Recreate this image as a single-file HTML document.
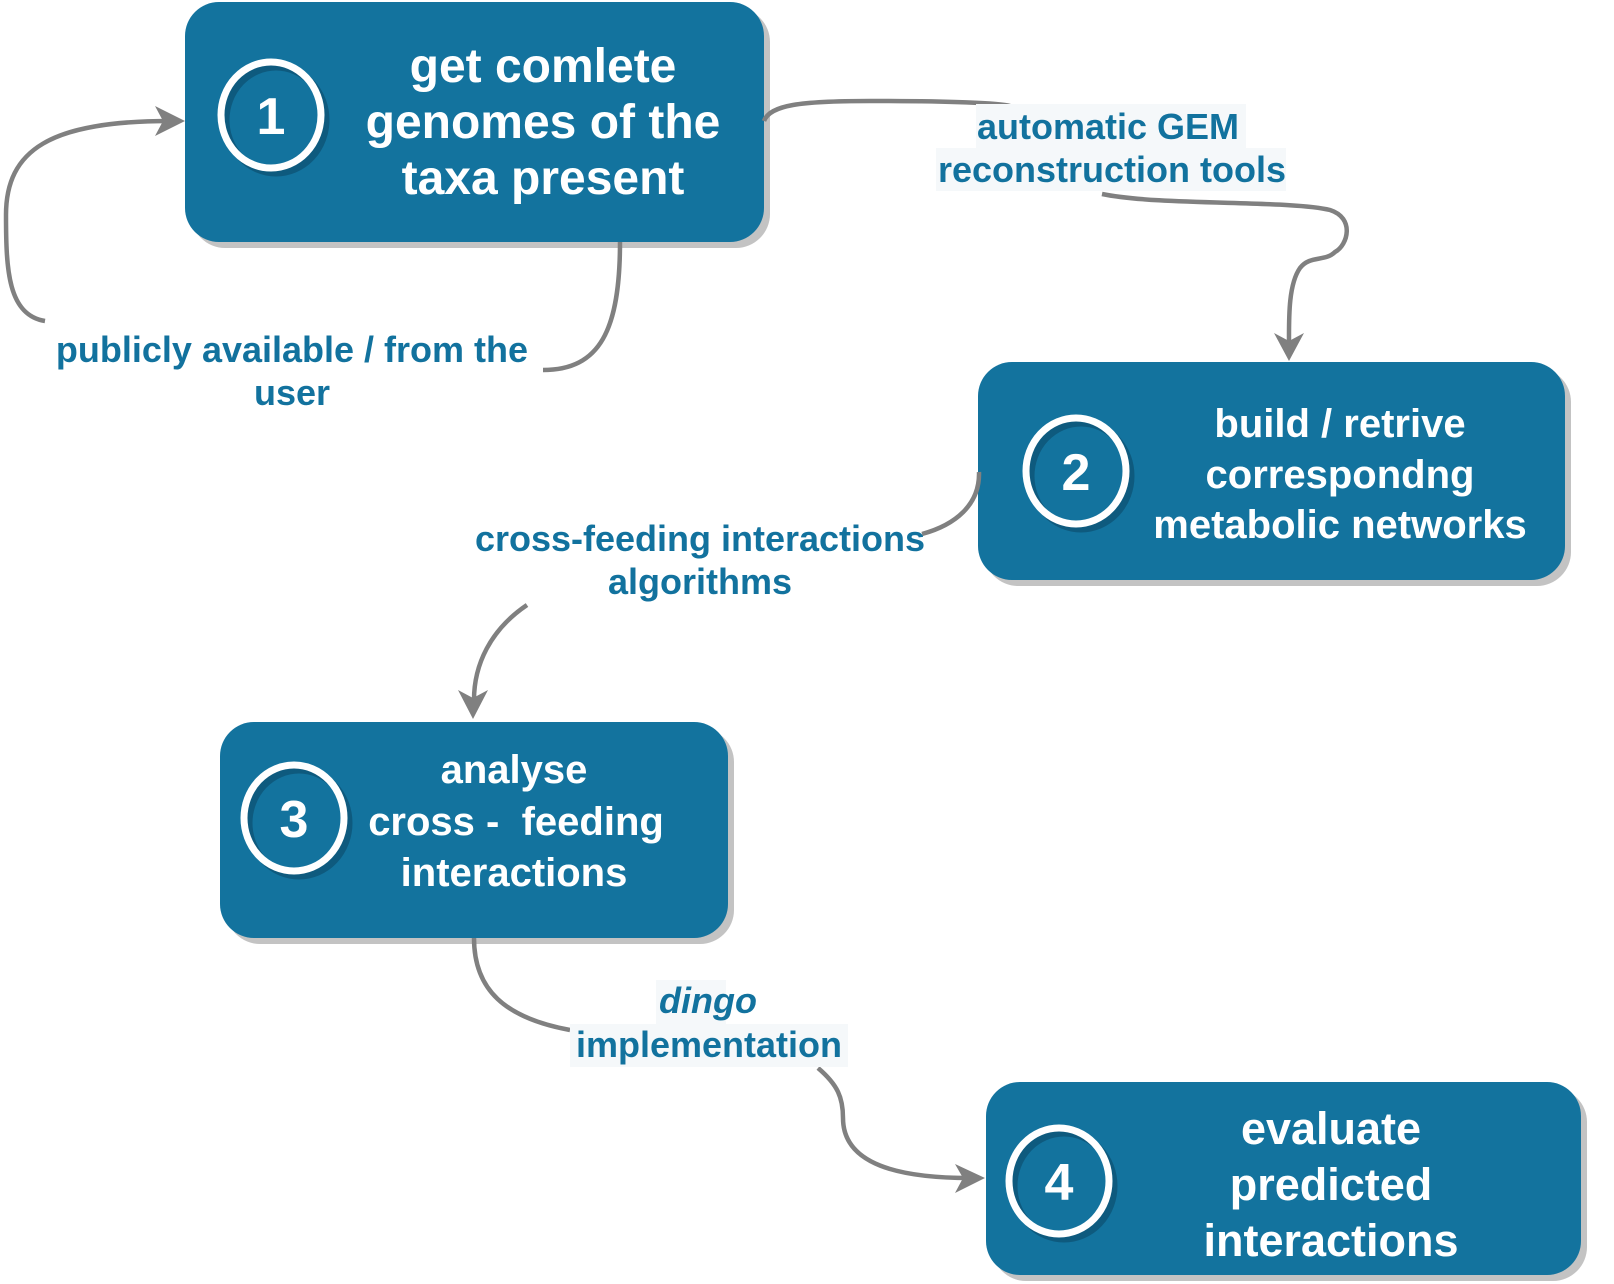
<!DOCTYPE html>
<html><head><meta charset="utf-8"><style>
html,body{margin:0;padding:0;background:#fff;}
svg{display:block;}
.bt{font-family:"Liberation Sans",sans-serif;font-weight:bold;fill:#fff;text-anchor:middle;}
.lb{font-family:"Liberation Sans",sans-serif;font-weight:bold;fill:#12729e;text-anchor:middle;font-size:36px;}
.c{fill:none;stroke:#808080;stroke-width:4.5;}
</style></head><body>
<svg width="1614" height="1284" viewBox="0 0 1614 1284">
<rect x="191" y="8" width="579" height="240" rx="34" fill="#c3c3c3"/>
<rect x="984" y="368" width="587" height="218" rx="34" fill="#c3c3c3"/>
<rect x="226" y="728" width="508" height="216" rx="34" fill="#c3c3c3"/>
<rect x="992" y="1088" width="595" height="193" rx="34" fill="#c3c3c3"/>
<rect x="185" y="2" width="579" height="240" rx="34" fill="#13739e"/>
<rect x="978" y="362" width="587" height="218" rx="34" fill="#13739e"/>
<rect x="220" y="722" width="508" height="216" rx="34" fill="#13739e"/>
<rect x="986" y="1082" width="595" height="193" rx="34" fill="#13739e"/>
<g fill="none">
<ellipse cx="276" cy="120" rx="50" ry="53" stroke="#0e5a7e" stroke-width="7"/>
<ellipse cx="271" cy="115" rx="50" ry="53" stroke="#fff" stroke-width="7"/>
<ellipse cx="1081" cy="476" rx="50" ry="53" stroke="#0e5a7e" stroke-width="7"/>
<ellipse cx="1076" cy="471" rx="50" ry="53" stroke="#fff" stroke-width="7"/>
<ellipse cx="299" cy="823" rx="50" ry="53" stroke="#0e5a7e" stroke-width="7"/>
<ellipse cx="294" cy="818" rx="50" ry="53" stroke="#fff" stroke-width="7"/>
<ellipse cx="1064" cy="1186" rx="50" ry="53" stroke="#0e5a7e" stroke-width="7"/>
<ellipse cx="1059" cy="1181" rx="50" ry="53" stroke="#fff" stroke-width="7"/>
</g>
<text class="bt" x="271" y="134" font-size="52">1</text>
<text class="bt" x="1076" y="490" font-size="52">2</text>
<text class="bt" x="294" y="837" font-size="52">3</text>
<text class="bt" x="1059" y="1200" font-size="52">4</text>
<g class="bt" font-size="48">
<text x="543" y="82">get comlete</text>
<text x="543" y="138">genomes of the</text>
<text x="543" y="194">taxa present</text>
</g>
<g class="bt" font-size="40">
<text x="1340" y="437">build / retrive</text>
<text x="1340" y="488">correspondng</text>
<text x="1340" y="538">metabolic networks</text>
<text x="514" y="783">analyse</text>
<text x="516" y="835" xml:space="preserve">cross -  feeding</text>
<text x="514" y="886">interactions</text>
</g>
<g class="bt" font-size="45">
<text x="1331" y="1144">evaluate</text>
<text x="1331" y="1200">predicted</text>
<text x="1331" y="1256">interactions</text>
</g>
<path class="c" d="M45,321 C8,315 6,270 6,215 C6,150 50,121 170,121"/>
<polygon points="185,121 155,106 163,121 155,136" fill="#808080"/>
<path class="c" d="M620,242 C620,330 600,370 543,370"/>
<path class="c" d="M764,121 C770,105 800,101 870,101 C950,101 1000,103 1010,106"/>
<path class="c" d="M1102,194 C1160,206 1290,200 1330,210 C1355,218 1348,245 1335,252 C1325,262 1310,255 1300,268 C1288,285 1289,320 1289,345"/>
<polygon points="1289,361 1274,333 1289,341 1304,333" fill="#808080"/>
<path class="c" d="M979,472 C980,505 955,525 922,534"/>
<path class="c" d="M527,605 C490,630 474,665 474,700"/>
<polygon points="473,719 458,690 473,698 488,690" fill="#808080"/>
<path class="c" d="M474,938 C474,990 505,1018 570,1030"/>
<path class="c" d="M818,1068 C838,1085 843,1098 843,1118 C843,1165 900,1178 970,1178"/>
<polygon points="985,1178 955,1164 963,1178 955,1193" fill="#808080"/>
<rect x="976" y="104" width="270" height="44" fill="#f5f8fa"/>
<rect x="936" y="148" width="350" height="43" fill="#f5f8fa"/>
<text class="lb" x="1108" y="139">automatic GEM</text>
<text class="lb" x="1112" y="182">reconstruction tools</text>
<text class="lb" x="292" y="362">publicly available / from the</text>
<text class="lb" x="292" y="405">user</text>
<text class="lb" x="700" y="551">cross-feeding interactions</text>
<text class="lb" x="700" y="594">algorithms</text>
<rect x="656" y="980" width="70" height="44" fill="#f5f8fa"/>
<rect x="570" y="1024" width="278" height="43" fill="#f5f8fa"/>
<text class="lb" x="708" y="1013" font-style="italic">dingo</text>
<text class="lb" x="709" y="1057">implementation</text>
</svg>
</body></html>
